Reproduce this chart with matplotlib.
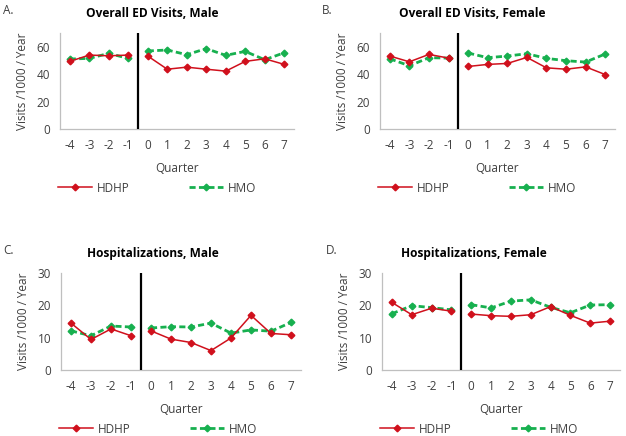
import matplotlib.pyplot as plt

plt.rcParams['font.family'] = ['Open Sans', 'DejaVu Sans']
plt.rcParams['axes.unicode_minus'] = False

quarters = [-4, -3, -2, -1, 0, 1, 2, 3, 4, 5, 6, 7]

# Overall ED visits, male
ed_male_hdhp = [49.3, 53.9, 53.4, 53.9, 53.2, 43.6, 45.1, 43.6, 42.2, 49.3, 51.2, 47.1]
ed_male_hmo = [51.0, 51.5, 55.1, 51.5, 56.9, 57.6, 54.2, 58.6, 53.7, 56.6, 50.5, 55.6]

# Overall ED visits, female
ed_female_hdhp = [53.2, 49.0, 54.4, 51.7, 45.6, 47.1, 47.8, 52.2, 44.6, 43.6, 45.3, 39.7]
ed_female_hmo = [51.2, 46.1, 52.0, 51.7, 55.4, 52.0, 53.2, 54.9, 51.5, 49.8, 48.8, 54.7]

# Hospitalizations, male
hosp_male_hdhp = [14.5, 9.45, 12.7, 10.6, 12.1, 9.55, 8.5, 6.0, 9.9, 16.9, 11.3, 10.9]
hosp_male_hmo = [12.1, 10.6, 13.6, 13.3, 13.0, 13.4, 13.3, 14.5, 11.4, 12.4, 12.0, 14.7]

# Hospitalizations, female
hosp_female_hdhp = [20.9, 17.1, 19.1, 18.2, 17.3, 16.8, 16.6, 17.1, 19.6, 16.9, 14.5, 15.1]
hosp_female_hmo = [17.4, 19.9, 19.3, 18.6, 20.2, 19.2, 21.3, 21.7, 19.4, 17.7, 20.1, 20.2]

panels = [
    ("A.", "Overall ED Visits, Male", ed_male_hdhp, ed_male_hmo, 70, [0, 20, 40, 60]),
    ("B.", "Overall ED Visits, Female", ed_female_hdhp, ed_female_hmo, 70, [0, 20, 40, 60]),
    ("C.", "Hospitalizations, Male", hosp_male_hdhp, hosp_male_hmo, 30, [0, 10, 20, 30]),
    ("D.", "Hospitalizations, Female", hosp_female_hdhp, hosp_female_hmo, 30, [0, 10, 20, 30]),
]

W, H = 626, 436
# axes boxes in pixels: left, top, right, bottom; letter x
boxes = [
    (60, 33, 294, 129, 3),
    (380, 33, 615, 129, 322),
    (61, 273, 301, 370, 3),
    (382, 273, 620, 370, 326),
]
RED = "#d0101c"
GREEN = "#17b04f"
TXT = "#404040"

fig = plt.figure(figsize=(W / 100, H / 100), dpi=100)

for (letter, title, hdhp, hmo, ymax, yticks), (l, t, r, b, lx) in zip(panels, boxes):
    ax = fig.add_axes([l / W, 1 - b / H, (r - l) / W, (b - t) / H])
    pre = [i for i, q in enumerate(quarters) if q < 0]
    post = [i for i, q in enumerate(quarters) if q >= 0]
    for idx, lab in ((pre, None), (post, "x")):
        ax.plot([quarters[i] for i in idx], [hmo[i] for i in idx], color=GREEN,
                lw=2, ls=(0, (2.2, 1.2)), marker="D", ms=3.4,
                label="HMO" if lab else None, zorder=3)
        ax.plot([quarters[i] for i in idx], [hdhp[i] for i in idx], color=RED,
                lw=1.1, marker="D", ms=3.4,
                label="HDHP" if lab else None, zorder=4)
    ax.axvline(-0.5, color="black", lw=1.6, zorder=5)
    ax.set_xlim(-4.5, 7.5)
    ax.set_ylim(0, ymax)
    ax.set_yticks(yticks)
    ax.set_xticks(quarters)
    ax.tick_params(length=0, labelsize=8.5, colors=TXT)
    ax.tick_params(axis="x", pad=7)
    ax.tick_params(axis="y", pad=7)
    for s in ("top", "right"):
        ax.spines[s].set_visible(False)
    for s in ("left", "bottom"):
        ax.spines[s].set_color("#bfbfbf")
        ax.spines[s].set_linewidth(0.9)
    ax.set_xlabel("Quarter", fontsize=8.5, color=TXT, va="center")
    ax.xaxis.set_label_coords(0.5, -39 / (b - t))
    ax.set_ylabel("Visits /1000 / Year", fontsize=8.5, color=TXT, va="center")
    ax.yaxis.set_label_coords(-37 / (r - l), 0.5)
    fig.text((l + 92) / W, 1 - (t - 16) / H, title, fontsize=8.6,
             fontweight="bold", ha="center", va="baseline")
    fig.text(lx / W, 1 - (t - 23) / H, letter, fontsize=8.5, va="center", ha="left",
             color=TXT)
    handles, labels = ax.get_legend_handles_labels()
    order = [labels.index("HDHP"), labels.index("HMO")]
    ax.legend([handles[i] for i in order], [labels[i] for i in order],
              loc="center left", bbox_to_anchor=((l - 2) / W, 1 - (b + 59) / H),
              bbox_transform=fig.transFigure, ncol=2, borderpad=0, borderaxespad=0,
              frameon=False, fontsize=8.5, handlelength=2.9, columnspacing=5.0,
              handletextpad=0.4, labelcolor=TXT)

fig.savefig("out.png", dpi=100)
